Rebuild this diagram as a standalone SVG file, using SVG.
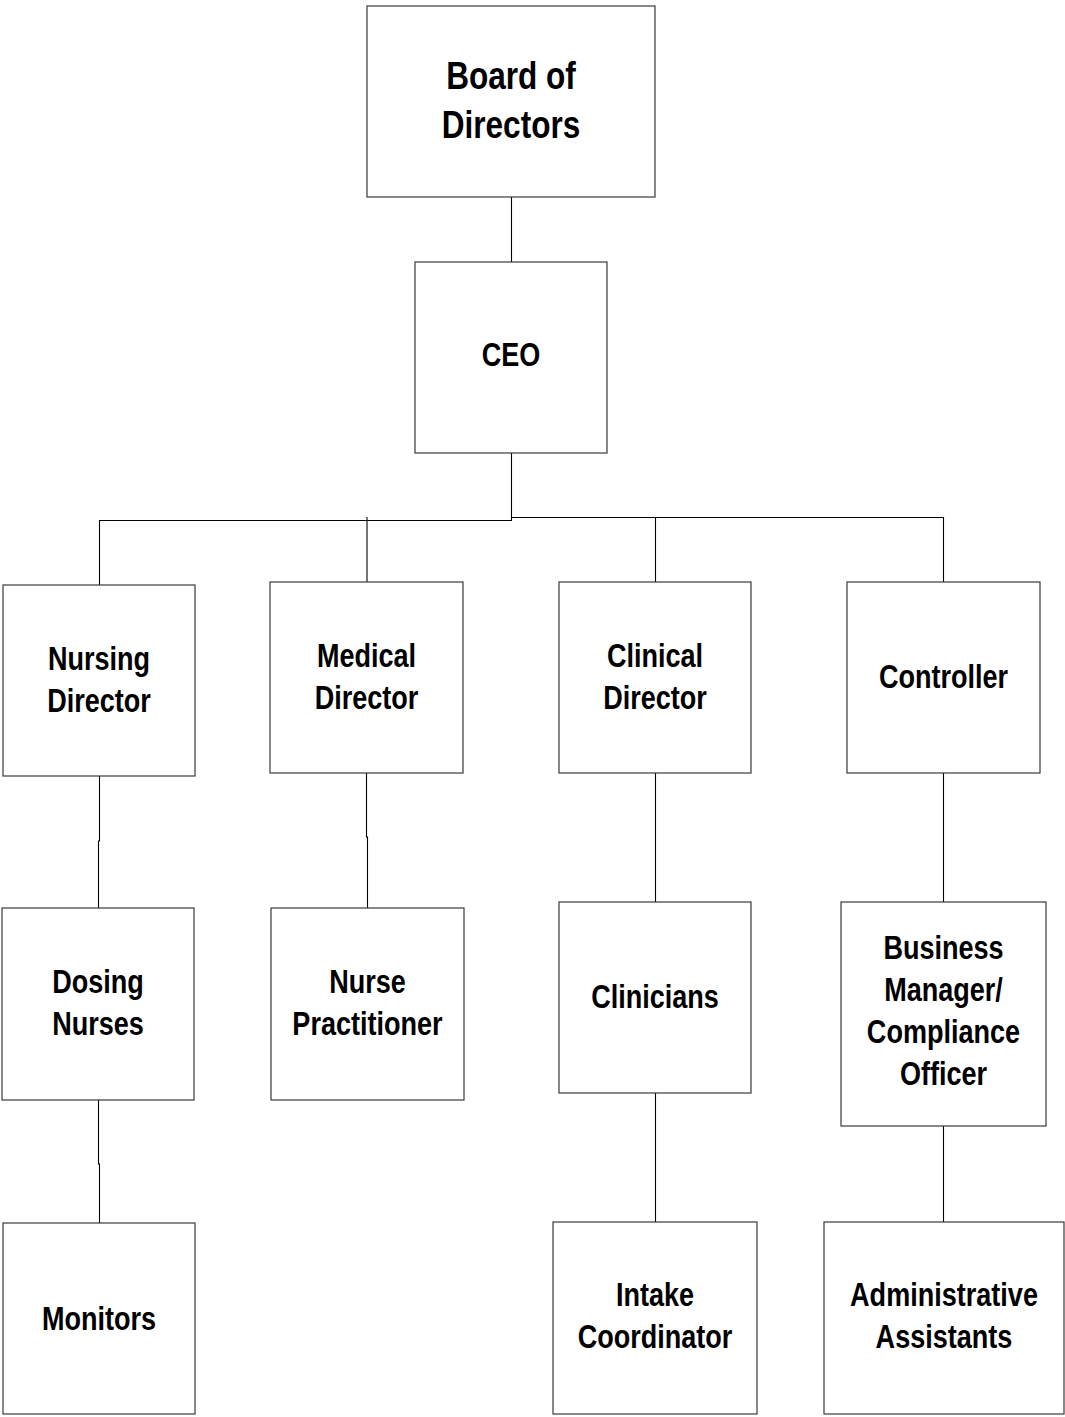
<svg xmlns="http://www.w3.org/2000/svg" width="1065" height="1417" viewBox="0 0 1065 1417">
<style>
.box{fill:#fff;stroke:#3a3a3a;stroke-width:1.2}
.lbl{font-family:"Liberation Sans",Arial,sans-serif;font-weight:bold;font-size:33px;fill:#000;text-anchor:middle}
.big{font-size:38.5px}
.conn{fill:none;stroke:#000;stroke-width:1.1}
</style>
<rect width="1065" height="1417" fill="#fff"/>
<g id="connectors">
<path class="conn" d="M511.5 197 V262"/>
<path class="conn" d="M511.5 453 V521"/>
<path class="conn" d="M511.5 520.5 H99.5 V585"/>
<path class="conn" d="M511.5 517.5 H943.5 V582"/>
<path class="conn" d="M367 517 V582"/>
<path class="conn" d="M655.5 518 V582"/>
<path class="conn" d="M99.5 776 V841 H98.5 V908"/>
<path class="conn" d="M366.5 773 V837 H367.5 V908"/>
<path class="conn" d="M98.5 1100 V1164 H99.5 V1223"/>
<path class="conn" d="M655.5 773 V902"/>
<path class="conn" d="M655.5 1093 V1222"/>
<path class="conn" d="M943.5 773 V902"/>
<path class="conn" d="M943.5 1126 V1222"/>
</g>
<g id="board">
<rect class="box" x="367" y="6" width="288" height="191"/>
<g transform="translate(511,0) scale(0.82,1)"><text class="lbl big" x="0" y="89">Board of</text><text class="lbl big" x="0" y="138">Directors</text></g>
</g>
<g id="ceo">
<rect class="box" x="415" y="262" width="192" height="191"/>
<g transform="translate(511,0) scale(0.82,1)"><text class="lbl" x="0" y="366">CEO</text></g>
</g>
<g id="nursing-director">
<rect class="box" x="3" y="585" width="192" height="191"/>
<g transform="translate(99,0) scale(0.82,1)"><text class="lbl" x="0" y="670">Nursing</text><text class="lbl" x="0" y="712">Director</text></g>
</g>
<g id="medical-director">
<rect class="box" x="270" y="582" width="193" height="191"/>
<g transform="translate(366.5,0) scale(0.82,1)"><text class="lbl" x="0" y="667">Medical</text><text class="lbl" x="0" y="709">Director</text></g>
</g>
<g id="clinical-director">
<rect class="box" x="559" y="582" width="192" height="191"/>
<g transform="translate(655,0) scale(0.82,1)"><text class="lbl" x="0" y="667">Clinical</text><text class="lbl" x="0" y="709">Director</text></g>
</g>
<g id="controller">
<rect class="box" x="847" y="582" width="193" height="191"/>
<g transform="translate(943.5,0) scale(0.82,1)"><text class="lbl" x="0" y="688">Controller</text></g>
</g>
<g id="dosing-nurses">
<rect class="box" x="2" y="908" width="192" height="192"/>
<g transform="translate(98,0) scale(0.82,1)"><text class="lbl" x="0" y="993">Dosing</text><text class="lbl" x="0" y="1035">Nurses</text></g>
</g>
<g id="nurse-practitioner">
<rect class="box" x="271" y="908" width="193" height="192"/>
<g transform="translate(367.5,0) scale(0.82,1)"><text class="lbl" x="0" y="993">Nurse</text><text class="lbl" x="0" y="1035">Practitioner</text></g>
</g>
<g id="clinicians">
<rect class="box" x="559" y="902" width="192" height="191"/>
<g transform="translate(655,0) scale(0.82,1)"><text class="lbl" x="0" y="1008">Clinicians</text></g>
</g>
<g id="business-manager">
<rect class="box" x="841" y="902" width="205" height="224"/>
<g transform="translate(943.5,0) scale(0.82,1)"><text class="lbl" x="0" y="959">Business</text><text class="lbl" x="0" y="1001">Manager/</text><text class="lbl" x="0" y="1043">Compliance</text><text class="lbl" x="0" y="1085">Officer</text></g>
</g>
<g id="monitors">
<rect class="box" x="3" y="1223" width="192" height="191"/>
<g transform="translate(99,0) scale(0.82,1)"><text class="lbl" x="0" y="1330">Monitors</text></g>
</g>
<g id="intake-coordinator">
<rect class="box" x="553" y="1222" width="204" height="192"/>
<g transform="translate(655,0) scale(0.82,1)"><text class="lbl" x="0" y="1306">Intake</text><text class="lbl" x="0" y="1348">Coordinator</text></g>
</g>
<g id="administrative-assistants">
<rect class="box" x="824" y="1222" width="240" height="192"/>
<g transform="translate(944,0) scale(0.82,1)"><text class="lbl" x="0" y="1306">Administrative</text><text class="lbl" x="0" y="1348">Assistants</text></g>
</g>
</svg>
